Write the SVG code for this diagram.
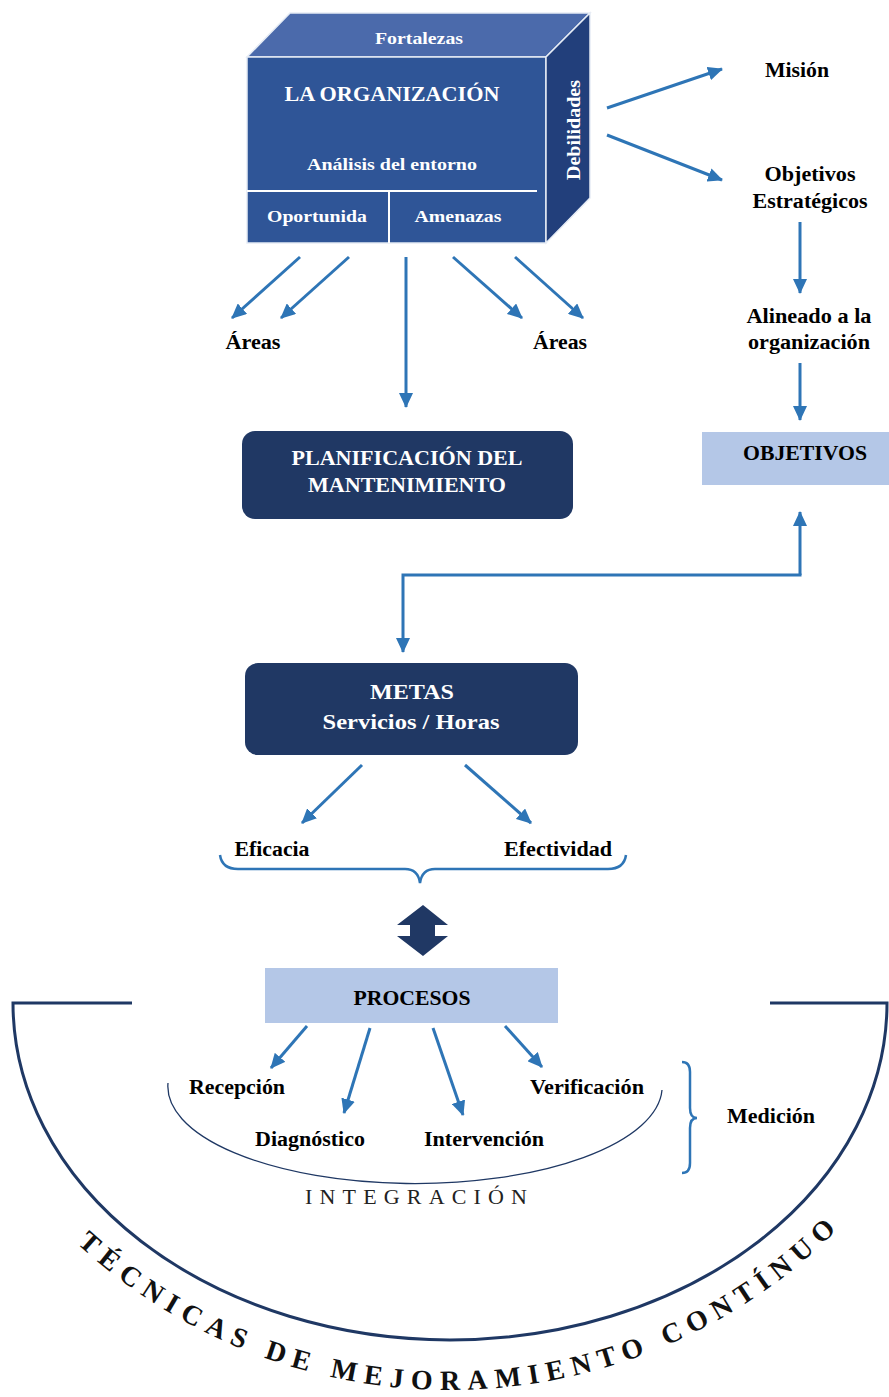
<svg xmlns="http://www.w3.org/2000/svg" width="889" height="1397" viewBox="0 0 889 1397">
<style>
.lbl{font-family:"Liberation Serif","Times New Roman",serif;font-weight:bold;font-size:20px;fill:#000;text-anchor:middle}
.wht{font-family:"Liberation Serif","Times New Roman",serif;font-weight:bold;fill:#fff;text-anchor:middle}
.arr{fill:none;stroke:#2e75b6;stroke-width:3;marker-end:url(#ah)}
.navy{fill:#203864}
.lite{fill:#b4c7e7}
</style>
<defs>
<marker id="ah" markerUnits="userSpaceOnUse" markerWidth="16" markerHeight="14" refX="14" refY="7" orient="auto">
<path d="M0,0 L15,7 L0,14 z" fill="#2e75b6"/>
</marker>
<path id="tp" d="M77,1243.4 A548,548 0 0 0 869.8,1194.2"/>
</defs>
<rect width="889" height="1397" fill="#fff"/>

<g id="cube">
<polygon points="247,57 290,13 590,13 546,57" fill="#4b6aab" stroke="#e6ecf5" stroke-width="1.5"/>
<rect x="247" y="57" width="299" height="186" fill="#2f5597" stroke="#e6ecf5" stroke-width="1.5"/>
<polygon points="546,57 590,13 590,198 546,243" fill="#223f7b" stroke="#e6ecf5" stroke-width="1.5"/>
<line x1="247" y1="191" x2="537" y2="191" stroke="#fff" stroke-width="2"/>
<line x1="389" y1="191" x2="389" y2="243" stroke="#fff" stroke-width="2"/>
<text class="wht" x="419" y="44" font-size="17" textLength="88" lengthAdjust="spacingAndGlyphs">Fortalezas</text>
<text class="wht" x="392" y="101" font-size="21" textLength="215" lengthAdjust="spacingAndGlyphs">LA ORGANIZACIÓN</text>
<text class="wht" x="392" y="170" font-size="17" textLength="170" lengthAdjust="spacingAndGlyphs">Análisis del entorno</text>
<text class="wht" x="317" y="222" font-size="17" textLength="100" lengthAdjust="spacingAndGlyphs">Oportunida</text>
<text class="wht" x="458" y="222" font-size="17" textLength="87" lengthAdjust="spacingAndGlyphs">Amenazas</text>
<text class="wht" transform="translate(580,130) rotate(-90)" font-size="18" textLength="100" lengthAdjust="spacingAndGlyphs">Debilidades</text>
</g>

<g id="mision"><text class="lbl" x="797" y="77" textLength="64" lengthAdjust="spacingAndGlyphs">Misión</text></g>
<g id="objetivos-estrategicos">
<text class="lbl" x="810" y="181" textLength="91" lengthAdjust="spacingAndGlyphs">Objetivos</text>
<text class="lbl" x="810" y="208" textLength="115" lengthAdjust="spacingAndGlyphs">Estratégicos</text>
</g>
<g id="alineado">
<text class="lbl" x="809" y="323" textLength="125" lengthAdjust="spacingAndGlyphs">Alineado a la</text>
<text class="lbl" x="809" y="349" textLength="122" lengthAdjust="spacingAndGlyphs">organización</text>
</g>
<g id="objetivos">
<rect class="lite" x="702" y="432" width="187" height="53"/>
<text class="lbl" x="805" y="460" textLength="124" lengthAdjust="spacingAndGlyphs">OBJETIVOS</text>
</g>
<g id="areas-izq"><text class="lbl" x="253" y="349" textLength="55" lengthAdjust="spacingAndGlyphs">Áreas</text></g>
<g id="areas-der"><text class="lbl" x="560" y="349" textLength="54" lengthAdjust="spacingAndGlyphs">Áreas</text></g>
<g id="planificacion">
<rect class="navy" x="242" y="431" width="331" height="88" rx="13"/>
<text class="wht" x="407" y="465" font-size="21" textLength="231" lengthAdjust="spacingAndGlyphs">PLANIFICACIÓN DEL</text>
<text class="wht" x="407" y="492" font-size="21" textLength="198" lengthAdjust="spacingAndGlyphs">MANTENIMIENTO</text>
</g>
<g id="metas">
<rect class="navy" x="245" y="663" width="333" height="92" rx="13"/>
<text class="wht" x="412" y="699" font-size="21" textLength="84" lengthAdjust="spacingAndGlyphs">METAS</text>
<text class="wht" x="411" y="729" font-size="21" textLength="177" lengthAdjust="spacingAndGlyphs">Servicios / Horas</text>
</g>
<g id="eficacia"><text class="lbl" x="272" y="856" textLength="75" lengthAdjust="spacingAndGlyphs">Eficacia</text></g>
<g id="efectividad"><text class="lbl" x="558" y="856" textLength="108" lengthAdjust="spacingAndGlyphs">Efectividad</text></g>
<g id="procesos">
<rect class="lite" x="265" y="968" width="293" height="55"/>
<text class="lbl" x="412" y="1005" textLength="117" lengthAdjust="spacingAndGlyphs">PROCESOS</text>
</g>
<g id="recepcion"><text class="lbl" x="237" y="1094" textLength="96" lengthAdjust="spacingAndGlyphs">Recepción</text></g>
<g id="verificacion"><text class="lbl" x="587" y="1094" textLength="114" lengthAdjust="spacingAndGlyphs">Verificación</text></g>
<g id="diagnostico"><text class="lbl" x="310" y="1146" textLength="110" lengthAdjust="spacingAndGlyphs">Diagnóstico</text></g>
<g id="intervencion"><text class="lbl" x="484" y="1146" textLength="120" lengthAdjust="spacingAndGlyphs">Intervención</text></g>
<g id="medicion"><text class="lbl" x="771" y="1123" textLength="88" lengthAdjust="spacingAndGlyphs">Medición</text></g>
<g id="integracion">
<path d="M168,1083 A247,97 0 0 0 662,1090" fill="none" stroke="#1f3864" stroke-width="1.3"/>
<text x="416" y="1204" font-family="Liberation Serif, Times New Roman, serif" font-size="22" fill="#222" text-anchor="middle" textLength="222" lengthAdjust="spacing">INTEGRACIÓN</text>
</g>
<g id="tecnicas">
<path d="M132,1003 H13 A437,337 0 0 0 887,1003 H770" fill="none" stroke="#1f3864" stroke-width="3"/>
<text font-family="Liberation Serif, Times New Roman, serif" font-weight="bold" font-size="28" fill="#111" letter-spacing="7.6"><textPath href="#tp">TÉCNICAS DE MEJORAMIENTO CONTÍNUO</textPath></text>
</g>

<g id="connectors">
<line class="arr" x1="607" y1="108" x2="722" y2="69"/>
<line class="arr" x1="607" y1="135" x2="722" y2="180"/>
<line class="arr" x1="800" y1="222" x2="800" y2="293"/>
<line class="arr" x1="800" y1="363" x2="800" y2="420"/>
<line class="arr" x1="300" y1="257" x2="232" y2="318"/>
<line class="arr" x1="349" y1="257" x2="281" y2="318"/>
<line class="arr" x1="406" y1="257" x2="406" y2="407"/>
<line class="arr" x1="453" y1="257" x2="522" y2="318"/>
<line class="arr" x1="515" y1="257" x2="583" y2="318"/>
<path class="arr" d="M800,575 V512"/>
<path class="arr" d="M801.5,575 H403 V652"/>
<line class="arr" x1="362" y1="765" x2="302" y2="823"/>
<line class="arr" x1="465" y1="765" x2="531" y2="823"/>
<path d="M220,855 Q222,869 238,869 H405 Q418,869 420,883 Q422,869 435,869 H608 Q624,869 626,855" fill="none" stroke="#2e75b6" stroke-width="2.5"/>
<polygon class="navy" points="423,905 448,925 435,925 435,936 448,936 423,956 397,936 410,936 410,925 397,925"/>
<line class="arr" x1="307" y1="1026" x2="271" y2="1068"/>
<line class="arr" x1="370" y1="1028" x2="344" y2="1113"/>
<line class="arr" x1="433" y1="1028" x2="463" y2="1115"/>
<line class="arr" x1="505" y1="1026" x2="542" y2="1067"/>
<path d="M682,1062 Q690,1062 690,1072 V1108 Q690,1118 697,1118 Q690,1118 690,1128 V1163 Q690,1173 682,1173" fill="none" stroke="#2e75b6" stroke-width="2.5"/>
</g>
</svg>
